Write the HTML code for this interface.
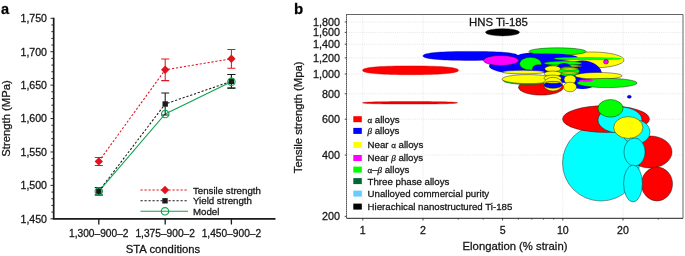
<!DOCTYPE html>
<html><head><meta charset="utf-8"><title>Figure</title>
<style>
html,body{margin:0;padding:0;background:#fff;}
svg{display:block;}
text{font-family:"Liberation Sans",sans-serif;fill:#161616;stroke:#161616;stroke-width:0.28px;}
.t{font-size:10.6px;}
.l{font-size:9.7px;}
.ax{font-size:11.3px;}
.pl{font-size:14.5px;font-weight:bold;fill:#000;}
.g{font-size:8px;}.gi{font-size:9px;font-style:italic;font-family:"Liberation Serif",serif;}
</style></head><body>
<svg width="685" height="256" viewBox="0 0 685 256">
<rect width="685" height="256" fill="#fff"/>

<text class="pl" x="1" y="13.7">a</text>
<path d="M53.7 17.8V218.8H275.5" fill="none" stroke="#1a1a1a" stroke-width="1.7"/>
<path d="M50.5 218.80H53.7M51.400000000000006 212.12H53.7M51.400000000000006 205.43H53.7M51.400000000000006 198.75H53.7M51.400000000000006 192.07H53.7M50.5 185.38H53.7M51.400000000000006 178.70H53.7M51.400000000000006 172.02H53.7M51.400000000000006 165.33H53.7M51.400000000000006 158.65H53.7M50.5 151.97H53.7M51.400000000000006 145.28H53.7M51.400000000000006 138.60H53.7M51.400000000000006 131.92H53.7M51.400000000000006 125.23H53.7M50.5 118.55H53.7M51.400000000000006 111.87H53.7M51.400000000000006 105.18H53.7M51.400000000000006 98.50H53.7M51.400000000000006 91.82H53.7M50.5 85.13H53.7M51.400000000000006 78.45H53.7M51.400000000000006 71.77H53.7M51.400000000000006 65.08H53.7M51.400000000000006 58.40H53.7M50.5 51.72H53.7M51.400000000000006 45.03H53.7M51.400000000000006 38.35H53.7M51.400000000000006 31.67H53.7M51.400000000000006 24.98H53.7M50.5 18.30H53.7" stroke="#1a1a1a" stroke-width="0.95" fill="none"/>
<text class="t" x="47" y="222.70" text-anchor="end">1,450</text>
<text class="t" x="47" y="189.28" text-anchor="end">1,500</text>
<text class="t" x="47" y="155.87" text-anchor="end">1,550</text>
<text class="t" x="47" y="122.45" text-anchor="end">1,600</text>
<text class="t" x="47" y="89.03" text-anchor="end">1,650</text>
<text class="t" x="47" y="55.62" text-anchor="end">1,700</text>
<text class="t" x="47" y="22.20" text-anchor="end">1,750</text>
<path d="M98.8 218.8V224.60000000000002M165.2 218.8V224.60000000000002M231.4 218.8V224.60000000000002" stroke="#1a1a1a" stroke-width="1.3" fill="none"/>
<text class="t" x="98.8" y="237" text-anchor="middle" style="font-size:10.2px">1,300–900–2</text>
<text class="t" x="165.2" y="237" text-anchor="middle" style="font-size:10.2px">1,375–900–2</text>
<text class="t" x="231.4" y="237" text-anchor="middle" style="font-size:10.2px">1,450–900–2</text>
<text class="ax" x="163" y="252.7" text-anchor="middle" >STA conditions</text>
<text class="ax" transform="translate(9.5 118.5) rotate(-90)" text-anchor="middle">Strength (MPa)</text>
<path d="M98.8 161.4L165.2 69.8L231.4 58.8" fill="none" stroke="#e0141e" stroke-width="1.05" stroke-dasharray="2.2 1.8"/>
<path d="M98.8 191.2L165.2 104L231.4 81.3" fill="none" stroke="#1a1a1a" stroke-width="1.05" stroke-dasharray="2.2 1.8"/>
<path d="M98.8 191.3L165.2 114L231.4 81.8" fill="none" stroke="#12a150" stroke-width="1.05"/>
<path d="M98.8 187.39999999999998V195.0M94.8 187.39999999999998H102.8M94.8 195.0H102.8" fill="none" stroke="#12a150" stroke-width="1.05"/>
<path d="M231.4 74.5V88.1M227.4 74.5H235.4M227.4 88.1H235.4" fill="none" stroke="#12a150" stroke-width="1.05"/>
<path d="M98.8 187.39999999999998V195.0M94.8 187.39999999999998H102.8M94.8 195.0H102.8" fill="none" stroke="#1a1a1a" stroke-width="1.05"/>
<path d="M165.2 93V115M161.2 93H169.2M161.2 115H169.2" fill="none" stroke="#1a1a1a" stroke-width="1.05"/>
<path d="M231.4 74.5V88.1M227.4 74.5H235.4M227.4 88.1H235.4" fill="none" stroke="#1a1a1a" stroke-width="1.05"/>
<path d="M98.8 157.4V165.4M94.8 157.4H102.8M94.8 165.4H102.8" fill="none" stroke="#e0141e" stroke-width="1.05"/>
<path d="M165.2 59.0V80.6M161.2 59.0H169.2M161.2 80.6H169.2" fill="none" stroke="#e0141e" stroke-width="1.05"/>
<path d="M231.4 49.4V68.2M227.4 49.4H235.4M227.4 68.2H235.4" fill="none" stroke="#e0141e" stroke-width="1.05"/>
<rect x="96.1" y="188.5" width="5.4" height="5.4" fill="#1a1a1a"/>
<rect x="162.5" y="101.3" width="5.4" height="5.4" fill="#1a1a1a"/>
<rect x="228.70000000000002" y="78.6" width="5.4" height="5.4" fill="#1a1a1a"/>
<circle cx="98.8" cy="191.3" r="3.7" fill="none" stroke="#12a150" stroke-width="1.15"/>
<circle cx="165.2" cy="114" r="3.7" fill="none" stroke="#12a150" stroke-width="1.15"/>
<circle cx="231.4" cy="81.8" r="3.7" fill="none" stroke="#12a150" stroke-width="1.15"/>
<path d="M98.8 157.20000000000002L103.0 161.4L98.8 165.6L94.6 161.4Z" fill="#e0141e"/>
<path d="M165.2 65.6L169.39999999999998 69.8L165.2 74.0L161.0 69.8Z" fill="#e0141e"/>
<path d="M231.4 54.599999999999994L235.6 58.8L231.4 63.0L227.20000000000002 58.8Z" fill="#e0141e"/>
<path d="M140.5 190L188 190" fill="none" stroke="#e0141e" stroke-width="1.05" stroke-dasharray="2.2 1.8"/>
<path d="M140.5 200.8L188 200.8" fill="none" stroke="#1a1a1a" stroke-width="1.05" stroke-dasharray="2.2 1.8"/>
<path d="M140.5 211.3L188 211.3" fill="none" stroke="#12a150" stroke-width="1.05"/>
<path d="M165 185.8L169.2 190L165 194.2L160.8 190Z" fill="#e0141e"/>
<rect x="162.3" y="198.10000000000002" width="5.4" height="5.4" fill="#1a1a1a"/>
<circle cx="165" cy="211.3" r="3.7" fill="none" stroke="#12a150" stroke-width="1.15"/>
<text class="l" x="193" y="193.9">Tensile strength</text>
<text class="l" x="193" y="204.3">Yield strength</text>
<text class="l" x="193" y="214.70000000000002">Model</text>
<text class="pl" x="294" y="13.7" style="font-size:15px">b</text>
<path d="M362.80 14.5V218.3M423.01 14.5V218.3M502.59 14.5V218.3M562.80 14.5V218.3M623.01 14.5V218.3M346.5 22.00H683M346.5 32.42H683M346.5 44.23H683M346.5 57.87H683M346.5 74.00H683M346.5 93.74H683M346.5 119.19H683M346.5 155.06H683" fill="none" stroke="#dadada" stroke-width="0.7" stroke-dasharray="1 1.2"/>
<g stroke="#111" stroke-width="0.45">
<path d="M458.5 70.30L458.3 70.85L457.9 71.29L457.1 71.69L456.0 72.07L454.6 72.41L453.0 72.74L451.0 73.04L448.8 73.32L446.2 73.58L443.5 73.81L440.4 74.01L437.1 74.19L433.6 74.35L429.8 74.47L425.7 74.57L421.3 74.64L416.5 74.69L410.5 74.70L404.5 74.69L399.7 74.64L395.3 74.57L391.2 74.47L387.4 74.35L383.9 74.19L380.6 74.01L377.5 73.81L374.8 73.58L372.2 73.32L370.0 73.04L368.0 72.74L366.4 72.41L365.0 72.07L363.9 71.69L363.1 71.29L362.7 70.85L362.5 70.30L362.7 69.75L363.1 69.31L363.9 68.91L365.0 68.53L366.4 68.19L368.0 67.86L370.0 67.56L372.2 67.28L374.8 67.02L377.5 66.79L380.6 66.59L383.9 66.41L387.4 66.25L391.2 66.13L395.3 66.03L399.7 65.96L404.5 65.91L410.5 65.90L416.5 65.91L421.3 65.96L425.7 66.03L429.8 66.13L433.6 66.25L437.1 66.41L440.4 66.59L443.5 66.79L446.2 67.02L448.8 67.28L451.0 67.56L453.0 67.86L454.6 68.19L456.0 68.53L457.1 68.91L457.9 69.31L458.3 69.75Z" fill="#ff0000" stroke="#c00000" stroke-width="0.4"/>
<path d="M457.5 102.80L457.3 102.96L456.9 103.08L456.1 103.20L455.1 103.30L453.7 103.40L452.0 103.49L450.1 103.58L447.9 103.66L445.4 103.73L442.6 103.80L439.6 103.85L436.3 103.91L432.8 103.95L429.1 103.99L425.0 104.01L420.7 104.03L416.0 104.05L410.0 104.05L404.0 104.05L399.3 104.03L395.0 104.01L390.9 103.99L387.2 103.95L383.7 103.91L380.4 103.85L377.4 103.80L374.6 103.73L372.1 103.66L369.9 103.58L368.0 103.49L366.3 103.40L364.9 103.30L363.9 103.20L363.1 103.08L362.7 102.96L362.5 102.80L362.7 102.64L363.1 102.52L363.9 102.40L364.9 102.30L366.3 102.20L368.0 102.11L369.9 102.02L372.1 101.94L374.6 101.87L377.4 101.80L380.4 101.75L383.7 101.69L387.2 101.65L390.9 101.61L395.0 101.59L399.3 101.57L404.0 101.55L410.0 101.55L416.0 101.55L420.7 101.57L425.0 101.59L429.1 101.61L432.8 101.65L436.3 101.69L439.6 101.75L442.6 101.80L445.4 101.87L447.9 101.94L450.1 102.02L452.0 102.11L453.7 102.20L455.1 102.30L456.1 102.40L456.9 102.52L457.3 102.64Z" fill="#f00000" stroke="#b00000" stroke-width="0.4"/>
<ellipse cx="502.5" cy="32.3" rx="17" ry="3.6" fill="#000"/>
<ellipse cx="541" cy="87.3" rx="22.5" ry="7.8" fill="#ff0000"/>
<path d="M581.0 56.50L580.9 57.04L580.6 57.47L580.1 57.86L579.4 58.23L578.4 58.57L577.3 58.88L576.0 59.18L574.5 59.45L572.8 59.70L571.0 59.93L568.9 60.13L566.7 60.30L564.4 60.45L561.8 60.58L559.1 60.67L556.2 60.74L553.0 60.79L549.0 60.80L545.0 60.79L541.8 60.74L538.9 60.67L536.2 60.58L533.6 60.45L531.3 60.30L529.1 60.13L527.0 59.93L525.2 59.70L523.5 59.45L522.0 59.18L520.7 58.88L519.6 58.57L518.6 58.23L517.9 57.86L517.4 57.47L517.1 57.04L517.0 56.50L517.1 55.96L517.4 55.53L517.9 55.14L518.6 54.77L519.6 54.43L520.7 54.12L522.0 53.82L523.5 53.55L525.2 53.30L527.0 53.07L529.1 52.87L531.3 52.70L533.6 52.55L536.2 52.42L538.9 52.33L541.8 52.26L545.0 52.21L549.0 52.20L553.0 52.21L556.2 52.26L559.1 52.33L561.8 52.42L564.4 52.55L566.7 52.70L568.9 52.87L571.0 53.07L572.8 53.30L574.5 53.55L576.0 53.82L577.3 54.12L578.4 54.43L579.4 54.77L580.1 55.14L580.6 55.53L580.9 55.96Z" fill="#0000ff" stroke="none"/>
<path d="M518.0 55.90L517.8 56.46L517.4 56.91L516.6 57.32L515.6 57.71L514.2 58.06L512.5 58.39L510.6 58.70L508.4 58.99L505.9 59.25L503.1 59.49L500.1 59.70L496.8 59.88L493.3 60.04L489.6 60.17L485.5 60.27L481.2 60.34L476.5 60.39L470.5 60.40L464.5 60.39L459.8 60.34L455.5 60.27L451.4 60.17L447.7 60.04L444.2 59.88L440.9 59.70L437.9 59.49L435.1 59.25L432.6 58.99L430.4 58.70L428.5 58.39L426.8 58.06L425.4 57.71L424.4 57.32L423.6 56.91L423.2 56.46L423.0 55.90L423.2 55.34L423.6 54.89L424.4 54.48L425.4 54.09L426.8 53.74L428.5 53.41L430.4 53.10L432.6 52.81L435.1 52.55L437.9 52.31L440.9 52.10L444.2 51.92L447.7 51.76L451.4 51.63L455.5 51.53L459.8 51.46L464.5 51.41L470.5 51.40L476.5 51.41L481.2 51.46L485.5 51.53L489.6 51.63L493.3 51.76L496.8 51.92L500.1 52.10L503.1 52.31L505.9 52.55L508.4 52.81L510.6 53.10L512.5 53.41L514.2 53.74L515.6 54.09L516.6 54.48L517.4 54.89L517.8 55.34Z" fill="#0000ff" stroke="#0000a0" stroke-width="0.4"/>
<ellipse cx="517" cy="66" rx="28" ry="7.3" fill="#0000ff" stroke="none"/>
<ellipse cx="591.5" cy="60" rx="32.5" ry="8" fill="#ffff00"/>
<ellipse cx="557.5" cy="51.5" rx="28.5" ry="3.7" fill="#00ff00"/>
<ellipse cx="545" cy="57.5" rx="33" ry="4" fill="#0000ff" stroke="none"/>
<ellipse cx="501" cy="60.5" rx="17.5" ry="5" fill="#ff00ff"/>
<ellipse cx="547" cy="65.5" rx="17" ry="7.6" fill="#0000ff" stroke="none"/>
<ellipse cx="582.5" cy="74.8" rx="19.5" ry="14.2" fill="#0000ff" stroke="none"/>
<ellipse cx="588" cy="58.6" rx="34" ry="1.5" fill="#00ff00" stroke="none"/>
<ellipse cx="563" cy="63.3" rx="19" ry="2.2" fill="#00ff00"/>
<ellipse cx="565" cy="66" rx="17" ry="1.1" fill="#ffff00"/>
<ellipse cx="530.5" cy="63.7" rx="11" ry="6.4" fill="#00ff00"/>
<ellipse cx="538.7" cy="68.6" rx="6.2" ry="3.9" fill="#0000ff"/>
<ellipse cx="523.5" cy="72.1" rx="21" ry="1.8" fill="#ffff00" stroke="#0000cc"/>
<ellipse cx="528" cy="80.3" rx="25" ry="4.2" fill="#00ff00"/>
<ellipse cx="528" cy="79.1" rx="26" ry="4.5" fill="#ffff00"/>
<ellipse cx="564" cy="73" rx="10" ry="10" fill="#0000ff" stroke="none"/>
<ellipse cx="568.5" cy="71.5" rx="11" ry="5" fill="#00ff00"/>
<ellipse cx="569.5" cy="69" rx="9" ry="1" fill="#ffff00"/>
<ellipse cx="569.5" cy="73" rx="9" ry="1" fill="#ffff00"/>
<ellipse cx="598.5" cy="75.8" rx="23.5" ry="3.3" fill="#ffff00"/>
<ellipse cx="607" cy="83" rx="30" ry="4.6" fill="#00ff00"/>
<ellipse cx="586" cy="80.6" rx="7" ry="1.1" fill="#ff00ff" stroke="none"/>
<ellipse cx="552.7" cy="68.8" rx="8" ry="3" fill="#ffff00"/>
<ellipse cx="552.7" cy="73.8" rx="8.5" ry="2.8" fill="#ffff00"/>
<ellipse cx="552.7" cy="78.2" rx="8.7" ry="3.1" fill="#ffff00"/>
<ellipse cx="553" cy="84.2" rx="9.4" ry="6.9" fill="#ffff00"/>
<ellipse cx="553" cy="85" rx="9.2" ry="3.3" fill="#0000ff"/>
<ellipse cx="553" cy="82.3" rx="7.5" ry="0.9" fill="#ffff00"/>
<ellipse cx="570" cy="79.5" rx="6" ry="4.5" fill="#ffff00"/>
<ellipse cx="570" cy="87" rx="6.5" ry="4.8" fill="#ffff00"/>
<ellipse cx="606" cy="61.8" rx="2.5" ry="2.3" fill="#ff00ff"/>
<ellipse cx="629.3" cy="96.8" rx="2" ry="1.5" fill="#0000ff"/>
<ellipse cx="601" cy="163" rx="38.5" ry="38" fill="#00ffff"/>
<ellipse cx="606" cy="119" rx="43.5" ry="13.4" fill="#ff0000"/>
<ellipse cx="650" cy="152" rx="22" ry="16" fill="#ff0000"/>
<ellipse cx="657" cy="184" rx="15.5" ry="17" fill="#ff0000"/>
<ellipse cx="620" cy="120" rx="22" ry="13" fill="#00ffff"/>
<ellipse cx="636" cy="132" rx="14" ry="12" fill="#00ffff"/>
<ellipse cx="634.5" cy="152" rx="10.6" ry="14" fill="#00ffff"/>
<ellipse cx="633" cy="183.5" rx="9.4" ry="18.5" fill="#00ffff"/>
<ellipse cx="610.5" cy="108.3" rx="12.5" ry="8.8" fill="#00ff00"/>
<ellipse cx="628.3" cy="127.5" rx="14.6" ry="10.9" fill="#ffff00"/>
</g>
<text x="498.5" y="26" text-anchor="middle" style="font-size:11.4px">HNS Ti-185</text>
<path d="M346.5 14.5H683V218.3" fill="none" stroke="#555" stroke-width="0.9"/>
<path d="M346.5 218.3H683" fill="none" stroke="#222" stroke-width="1"/>
<path d="M346.5 14.5V218.3" fill="none" stroke="#111" stroke-width="1" stroke-dasharray="1.2 0.8"/>
<path d="M344.7 22.00H346.5M344.7 32.42H346.5M344.7 44.23H346.5M344.7 57.87H346.5M344.7 74.00H346.5M344.7 93.74H346.5M344.7 119.19H346.5M344.7 155.06H346.5M344.7 216.38H346.5M362.80 218.3V220.5M423.01 218.3V220.5M502.59 218.3V220.5M562.80 218.3V220.5M623.01 218.3V220.5M458.22 218.3V219.60000000000002M483.21 218.3V219.60000000000002M518.43 218.3V219.60000000000002M531.82 218.3V219.60000000000002M543.42 218.3V219.60000000000002M553.65 218.3V219.60000000000002M658.22 218.3V219.60000000000002" fill="none" stroke="#222" stroke-width="0.8"/>
<text class="t" x="340" y="25.80" text-anchor="end" style="font-size:10.8px">1,800</text>
<text class="t" x="340" y="36.22" text-anchor="end" style="font-size:10.8px">1,600</text>
<text class="t" x="340" y="48.03" text-anchor="end" style="font-size:10.8px">1,400</text>
<text class="t" x="340" y="61.67" text-anchor="end" style="font-size:10.8px">1,200</text>
<text class="t" x="340" y="77.80" text-anchor="end" style="font-size:10.8px">1,000</text>
<text class="t" x="340" y="97.54" text-anchor="end" style="font-size:10.8px">800</text>
<text class="t" x="340" y="122.99" text-anchor="end" style="font-size:10.8px">600</text>
<text class="t" x="340" y="158.86" text-anchor="end" style="font-size:10.8px">400</text>
<text class="t" x="340" y="220.18" text-anchor="end" style="font-size:10.8px">200</text>
<text class="t" x="362.80" y="233.7" text-anchor="middle">1</text>
<text class="t" x="423.01" y="233.7" text-anchor="middle">2</text>
<text class="t" x="502.59" y="233.7" text-anchor="middle">5</text>
<text class="t" x="562.80" y="233.7" text-anchor="middle">10</text>
<text class="t" x="623.01" y="233.7" text-anchor="middle">20</text>
<text class="ax" x="515" y="250.3" text-anchor="middle">Elongation (% strain)</text>
<text class="ax" transform="translate(302 117.3) rotate(-90)" text-anchor="middle">Tensile strength (Mpa)</text>
<rect x="353.3" y="116.20" width="8.5" height="6" fill="#ff0000"/>
<text class="l" x="367.5" y="122.60"><tspan class="g">α</tspan> alloys</text>
<rect x="353.3" y="127.90" width="8.5" height="6" fill="#0000ff"/>
<text class="l" x="367.5" y="134.30"><tspan class="gi">β</tspan> alloys</text>
<rect x="353.3" y="141.90" width="8.5" height="6" fill="#ffff00"/>
<text class="l" x="367.5" y="148.30">Near <tspan class="g">α</tspan> alloys</text>
<rect x="353.3" y="155.00" width="8.5" height="6" fill="#ff00ff"/>
<text class="l" x="367.5" y="161.40">Near <tspan class="gi">β</tspan> alloys</text>
<rect x="353.3" y="166.60" width="8.5" height="6" fill="#00ff00"/>
<text class="l" x="367.5" y="173.00"><tspan class="g">α</tspan>–<tspan class="gi">β</tspan> alloys</text>
<rect x="353.3" y="178.10" width="8.5" height="6" fill="#006633"/>
<text class="l" x="367.5" y="184.50">Three phase alloys</text>
<rect x="353.3" y="190.60" width="8.5" height="6" fill="#66ccff"/>
<text class="l" x="367.5" y="197.00">Unalloyed commercial purity</text>
<rect x="353.3" y="203.60" width="8.5" height="6" fill="#000"/>
<text class="l" x="367.5" y="210.00">Hierachical nanostructured Ti-185</text>
</svg></body></html>
